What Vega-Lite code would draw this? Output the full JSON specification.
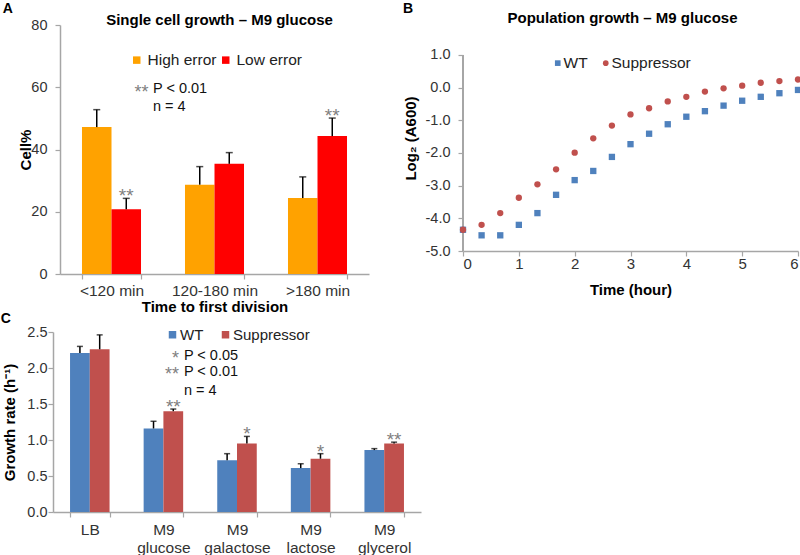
{
  "$schema": "https://vega.github.io/schema/vega-lite/v6.json",
  "padding": {"left": 0, "top": 2, "right": 0, "bottom": 0},
  "background": "white",
  "config": {
    "font": "Liberation Sans",
    "view": {"stroke": null},
    "axis": {"grid": false, "domainColor": "#A6A6A6", "tickColor": "#A6A6A6", "tickSize": 5, "domainWidth": 1.5, "tickWidth": 1.2, "labelColor": "#333333", "labelFontSize": 14.5, "titleFontSize": 15, "titleFontWeight": "bold", "titleColor": "#000000", "labelFont": "Liberation Sans", "titleFont": "Liberation Sans", "labelOverlap": false},
    "title": {"font": "Liberation Sans", "fontSize": 15, "fontWeight": "bold", "color": "#000000"},
    "legend": {"labelFontSize": 15.5, "labelColor": "#222222", "padding": 0, "labelFont": "Liberation Sans"}
  },
  "spacing": -3,
  "resolve": {"scale": {"color": "independent", "shape": "independent", "xOffset": "independent"}, "legend": {"color": "independent", "shape": "independent"}},
  "vconcat": [
    {
      "spacing": 34,
      "resolve": {"scale": {"color": "independent", "shape": "independent", "xOffset": "independent"}, "legend": {"color": "independent", "shape": "independent"}},
      "hconcat": [
        {
          "title": {"text": "A", "anchor": "start", "fontSize": 14, "dx": -16, "offset": -3},
          "vconcat": [
            {
              "width": 309,
              "height": 249,
              "title": {"text": "Single cell growth – M9 glucose", "anchor": "middle", "frame": "group", "dx": 5, "offset": -11},
              "layer": [
                {
                  "data": {"values": [
                    {"time": "<120 min", "group": "High error", "value": 47.2, "err": 52.8, "ann": ""},
                    {"time": "<120 min", "group": "Low error", "value": 20.8, "err": 24.3, "ann": "**"},
                    {"time": "120-180 min", "group": "High error", "value": 28.7, "err": 34.5, "ann": ""},
                    {"time": "120-180 min", "group": "Low error", "value": 35.4, "err": 39.0, "ann": ""},
                    {"time": ">180 min", "group": "High error", "value": 24.4, "err": 31.2, "ann": ""},
                    {"time": ">180 min", "group": "Low error", "value": 44.3, "err": 50.1, "ann": "**"}
                  ]},
                  "layer": [
                    {
                      "mark": {"type": "bar"},
                      "encoding": {
                        "x": {"field": "time", "type": "nominal", "sort": ["<120 min", "120-180 min", ">180 min"], "title": "Time to first division", "scale": {"paddingInner": 0.427, "paddingOuter": 0.2135}, "axis": {"labelAngle": 0, "tickBand": "extent", "labelPadding": 4, "titlePadding": 1, "labelFontSize": 15.5, "labelOverlap": false}},
                        "xOffset": {"field": "group", "type": "nominal", "sort": ["High error", "Low error"], "scale": {"paddingInner": 0, "paddingOuter": 0}},
                        "y": {"field": "value", "type": "quantitative", "title": "Cell%", "scale": {"domain": [0, 80]}, "axis": {"values": [0, 20, 40, 60, 80], "labelPadding": 8, "titlePadding": -3, "labelOverlap": false}},
                        "color": {"field": "group", "type": "nominal", "scale": {"domain": ["High error", "Low error"], "range": ["#FFA200", "#FF0000"]}, "legend": {"orient": "none", "direction": "horizontal", "legendX": 69, "legendY": 27, "title": null, "symbolType": "square", "symbolSize": 56, "columnPadding": 1, "labelOffset": 3}}
                      }
                    },
                    {
                      "mark": {"type": "rule", "color": "#000000", "strokeWidth": 1.5},
                      "encoding": {
                        "x": {"field": "time", "type": "nominal", "sort": ["<120 min", "120-180 min", ">180 min"], "title": "Time to first division"},
                        "xOffset": {"field": "group", "type": "nominal", "sort": ["High error", "Low error"]},
                        "y": {"field": "value", "type": "quantitative", "title": "Cell%"},
                        "y2": {"field": "err"}
                      }
                    },
                    {
                      "mark": {"type": "tick", "color": "#000000", "thickness": 1.5, "size": 7},
                      "encoding": {
                        "x": {"field": "time", "type": "nominal", "sort": ["<120 min", "120-180 min", ">180 min"], "title": "Time to first division"},
                        "xOffset": {"field": "group", "type": "nominal", "sort": ["High error", "Low error"]},
                        "y": {"field": "err", "type": "quantitative", "title": "Cell%"}
                      }
                    },
                    {
                      "transform": [{"filter": "datum.ann != ''"}],
                      "mark": {"type": "text", "color": "#808080", "fontSize": 19, "baseline": "alphabetic", "dy": 4},
                      "encoding": {
                        "x": {"field": "time", "type": "nominal", "sort": ["<120 min", "120-180 min", ">180 min"], "title": "Time to first division"},
                        "xOffset": {"field": "group", "type": "nominal", "sort": ["High error", "Low error"]},
                        "y": {"field": "err", "type": "quantitative", "title": "Cell%"},
                        "text": {"field": "ann"}
                      }
                    }
                  ]
                },
                {
                  "data": {"values": [
                    {"s": "**", "t": "P < 0.01", "v": 59.4},
                    {"s": "", "t": "n = 4", "v": 53.7}
                  ]},
                  "layer": [
                    {
                      "mark": {"type": "text", "align": "right", "baseline": "middle", "fontSize": 18, "color": "#808080", "dx": 37, "dy": 4},
                      "encoding": {
                        "x": {"datum": "<120 min", "type": "nominal", "title": "Time to first division"},
                        "y": {"field": "v", "type": "quantitative", "title": "Cell%"},
                        "text": {"field": "s"}
                      }
                    },
                    {
                      "mark": {"type": "text", "align": "left", "baseline": "middle", "fontSize": 14.5, "color": "#111111", "dx": 41.5},
                      "encoding": {
                        "x": {"datum": "<120 min", "type": "nominal", "title": "Time to first division"},
                        "y": {"field": "v", "type": "quantitative", "title": "Cell%"},
                        "text": {"field": "t"}
                      }
                    }
                  ]
                }
              ]
            }
          ]
        },
        {
          "title": {"text": "B", "anchor": "start", "fontSize": 14, "dx": 0, "offset": -5},
          "vconcat": [
            {
              "width": 335,
              "height": 226,
              "title": {"text": "Population growth – M9 glucose", "anchor": "middle", "frame": "group", "dx": -8, "offset": -1},
              "data": {"values": [
                {"s": "WT", "t": 0, "v": -4.35},
                {"s": "WT", "t": 0.333, "v": -4.52},
                {"s": "WT", "t": 0.667, "v": -4.52},
                {"s": "WT", "t": 1, "v": -4.2},
                {"s": "WT", "t": 1.333, "v": -3.84},
                {"s": "WT", "t": 1.667, "v": -3.28},
                {"s": "WT", "t": 2, "v": -2.83},
                {"s": "WT", "t": 2.333, "v": -2.55},
                {"s": "WT", "t": 2.667, "v": -2.12},
                {"s": "WT", "t": 3, "v": -1.73},
                {"s": "WT", "t": 3.333, "v": -1.41},
                {"s": "WT", "t": 3.667, "v": -1.12},
                {"s": "WT", "t": 4, "v": -0.89},
                {"s": "WT", "t": 4.333, "v": -0.72},
                {"s": "WT", "t": 4.667, "v": -0.55},
                {"s": "WT", "t": 5, "v": -0.4},
                {"s": "WT", "t": 5.333, "v": -0.28},
                {"s": "WT", "t": 5.667, "v": -0.17},
                {"s": "WT", "t": 6, "v": -0.07},
                {"s": "Suppressor", "t": 0, "v": -4.35},
                {"s": "Suppressor", "t": 0.333, "v": -4.2},
                {"s": "Suppressor", "t": 0.667, "v": -3.84},
                {"s": "Suppressor", "t": 1, "v": -3.37},
                {"s": "Suppressor", "t": 1.333, "v": -2.96},
                {"s": "Suppressor", "t": 1.667, "v": -2.5},
                {"s": "Suppressor", "t": 2, "v": -1.99},
                {"s": "Suppressor", "t": 2.333, "v": -1.55},
                {"s": "Suppressor", "t": 2.667, "v": -1.16},
                {"s": "Suppressor", "t": 3, "v": -0.82},
                {"s": "Suppressor", "t": 3.333, "v": -0.63},
                {"s": "Suppressor", "t": 3.667, "v": -0.42},
                {"s": "Suppressor", "t": 4, "v": -0.28},
                {"s": "Suppressor", "t": 4.333, "v": -0.12},
                {"s": "Suppressor", "t": 4.667, "v": -0.02},
                {"s": "Suppressor", "t": 5, "v": 0.06},
                {"s": "Suppressor", "t": 5.333, "v": 0.15},
                {"s": "Suppressor", "t": 5.667, "v": 0.2},
                {"s": "Suppressor", "t": 6, "v": 0.25}
              ]},
              "layer": [
                {
                  "mark": {"type": "rule", "color": "#A6A6A6", "strokeWidth": 1.5},
                  "encoding": {
                    "x": {"datum": 0, "type": "quantitative", "title": "Time (hour)"},
                    "y": {"datum": -5, "type": "quantitative", "title": "Log₂ (A600)"},
                    "y2": {"datum": 1}
                  }
                },
                {
                  "mark": {"type": "point", "filled": true, "opacity": 1, "size": 40},
                  "encoding": {
                    "x": {"field": "t", "type": "quantitative", "title": "Time (hour)", "scale": {"domain": [0, 6], "nice": false}, "axis": {"values": [0, 1, 2, 3, 4, 5, 6], "labelExpr": "format(datum.value, 'd')", "labelPadding": 0, "titlePadding": 11, "labelFontSize": 15, "labelOverlap": false}},
                    "y": {"field": "v", "type": "quantitative", "title": "Log₂ (A600)", "scale": {"domain": [-5, 1.918], "nice": false, "zero": false}, "axis": {"domain": false, "tickCount": 7, "labelExpr": "(datum.value < 0 ? '-' : '') + format(abs(datum.value), '.1f')", "labelPadding": 8, "titlePadding": 7, "labelOverlap": false, "labelSeparation": 0}},
                    "color": {"field": "s", "type": "nominal", "scale": {"domain": ["WT", "Suppressor"], "range": ["#4F81BD", "#C0504D"]}, "legend": {"orient": "none", "direction": "horizontal", "legendX": 87, "legendY": 30, "title": null, "symbolSize": 32, "columnPadding": 10, "labelOffset": -2}},
                    "shape": {"field": "s", "type": "nominal", "scale": {"domain": ["WT", "Suppressor"], "range": ["square", "circle"]}, "legend": {"orient": "none", "direction": "horizontal", "legendX": 87, "legendY": 30, "title": null, "symbolSize": 32, "columnPadding": 10, "labelOffset": -2}}
                  }
                }
              ]
            }
          ]
        }
      ]
    },
    {
      "title": {"text": "C", "anchor": "start", "fontSize": 14, "dx": -2, "offset": -2},
      "vconcat": [
        {
          "width": 361,
          "height": 180,
          "layer": [
            {
              "data": {"values": [
                {"medium": "LB", "strain": "WT", "value": 2.21, "err": 2.3, "ann": ""},
                {"medium": "LB", "strain": "Suppressor", "value": 2.26, "err": 2.46, "ann": ""},
                {"medium": "M9 glucose", "strain": "WT", "value": 1.16, "err": 1.26, "ann": ""},
                {"medium": "M9 glucose", "strain": "Suppressor", "value": 1.4, "err": 1.43, "ann": "**"},
                {"medium": "M9 galactose", "strain": "WT", "value": 0.72, "err": 0.81, "ann": ""},
                {"medium": "M9 galactose", "strain": "Suppressor", "value": 0.95, "err": 1.05, "ann": "*"},
                {"medium": "M9 lactose", "strain": "WT", "value": 0.61, "err": 0.67, "ann": ""},
                {"medium": "M9 lactose", "strain": "Suppressor", "value": 0.74, "err": 0.81, "ann": "*"},
                {"medium": "M9 glycerol", "strain": "WT", "value": 0.86, "err": 0.88, "ann": ""},
                {"medium": "M9 glycerol", "strain": "Suppressor", "value": 0.95, "err": 0.97, "ann": "**"}
              ]},
              "layer": [
                {
                  "mark": {"type": "bar"},
                  "encoding": {
                    "x": {"field": "medium", "type": "nominal", "sort": null, "title": null, "scale": {"paddingInner": 0.463, "paddingOuter": 0.2315, "range": [-7, 361]}, "axis": {"labelAngle": 0, "tickBand": "extent", "labelPadding": 5, "labelFontSize": 15.5, "labelLineHeight": 18, "labelExpr": "split(datum.label, ' ')", "labelOverlap": false}},
                    "xOffset": {"field": "strain", "type": "nominal", "sort": ["WT", "Suppressor"], "scale": {"paddingInner": 0, "paddingOuter": 0}},
                    "y": {"field": "value", "type": "quantitative", "title": "Growth rate (h⁻¹)", "scale": {"domain": [0, 2.5], "nice": false}, "axis": {"tickCount": 6, "format": ".1f", "offset": 7, "labelPadding": 1, "titlePadding": 9, "labelOverlap": false, "labelSeparation": 0}},
                    "color": {"field": "strain", "type": "nominal", "scale": {"domain": ["WT", "Suppressor"], "range": ["#4F81BD", "#C0504D"]}, "legend": {"orient": "none", "direction": "horizontal", "legendX": 105, "legendY": -5, "title": null, "symbolType": "square", "symbolSize": 56, "columnPadding": 14, "labelOffset": 0, "labelFontSize": 15}}
                  }
                },
                {
                  "mark": {"type": "rule", "color": "#000000", "strokeWidth": 1.5},
                  "encoding": {
                    "x": {"field": "medium", "type": "nominal", "sort": null, "title": null},
                    "xOffset": {"field": "strain", "type": "nominal", "sort": ["WT", "Suppressor"]},
                    "y": {"field": "value", "type": "quantitative", "title": "Growth rate (h⁻¹)"},
                    "y2": {"field": "err"}
                  }
                },
                {
                  "mark": {"type": "tick", "color": "#000000", "thickness": 1.5, "size": 6},
                  "encoding": {
                    "x": {"field": "medium", "type": "nominal", "sort": null, "title": null},
                    "xOffset": {"field": "strain", "type": "nominal", "sort": ["WT", "Suppressor"]},
                    "y": {"field": "err", "type": "quantitative", "title": "Growth rate (h⁻¹)"}
                  }
                },
                {
                  "transform": [{"filter": "datum.ann != ''"}],
                  "mark": {"type": "text", "color": "#808080", "fontSize": 19, "baseline": "alphabetic", "dy": 4},
                  "encoding": {
                    "x": {"field": "medium", "type": "nominal", "sort": null, "title": null},
                    "xOffset": {"field": "strain", "type": "nominal", "sort": ["WT", "Suppressor"]},
                    "y": {"field": "err", "type": "quantitative", "title": "Growth rate (h⁻¹)"},
                    "text": {"field": "ann"}
                  }
                }
              ]
            },
            {
              "data": {"values": [
                {"s": "*", "t": "P < 0.05", "v": 2.16},
                {"s": "**", "t": "P < 0.01", "v": 1.95},
                {"s": "", "t": "n = 4", "v": 1.68}
              ]},
              "layer": [
                {
                  "mark": {"type": "text", "align": "right", "baseline": "middle", "fontSize": 18, "color": "#808080", "dx": 15.5, "dy": 3},
                  "encoding": {
                    "x": {"datum": "M9 glucose", "type": "nominal", "title": null},
                    "y": {"field": "v", "type": "quantitative", "title": "Growth rate (h⁻¹)"},
                    "text": {"field": "s"}
                  }
                },
                {
                  "mark": {"type": "text", "align": "left", "baseline": "middle", "fontSize": 14.5, "color": "#111111", "dx": 20.5},
                  "encoding": {
                    "x": {"datum": "M9 glucose", "type": "nominal", "title": null},
                    "y": {"field": "v", "type": "quantitative", "title": "Growth rate (h⁻¹)"},
                    "text": {"field": "t"}
                  }
                }
              ]
            }
          ]
        }
      ]
    }
  ]
}
